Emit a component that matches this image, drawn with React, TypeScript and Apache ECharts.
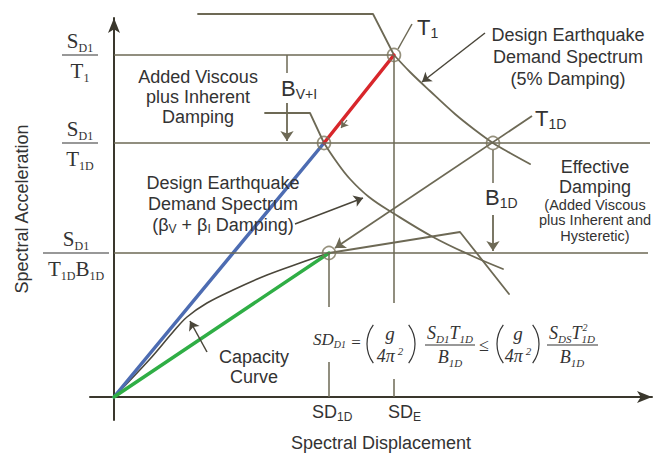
import { useEffect, useRef } from 'react';
import * as echarts from 'echarts';

type Pt = [number, number];

// ---------- values (x: spectral displacement, y: spectral acceleration; schematic units) ----------
const SD_1D = 2.15;
const SD_E = 2.8;
const SD_T1D = 3.79;
const SD_VI = 2.1;
const SA_T1 = 3.42;
const SA_T1D = 2.54;
const SA_T1D_B1D = 1.44;
const SD_BVI = 1.73;

const X_RANGE: Pt = [-0.24, 5.38];
const Y_RANGE: Pt = [-0.23, 3.79];

const spectrum5Plateau: Pt[] = [[0.84, 3.83], [2.59, 3.83], [2.8, 3.42]];
const spectrum5Curve: Pt[] = [[2.8, 3.42], [2.96, 3.25], [3.16, 3.06], [3.41, 2.83], [3.61, 2.67], [3.79, 2.54], [3.96, 2.44], [4.16, 2.33]];
const spectrumVIPlateau: Pt[] = [[1.51, 2.84], [1.96, 2.84], [2.1, 2.54]];
const spectrumVICurve: Pt[] = [[2.1, 2.54], [2.22, 2.36], [2.36, 2.18], [2.55, 2.0], [2.79, 1.84], [3.19, 1.6], [3.56, 1.42], [3.89, 1.28]];
const spectrumEffective: Pt[] = [[2.15, 1.44], [3.46, 1.65], [3.95, 1.03]];
const capacityCurve: Pt[] = [[0, 0], [0.36, 0.38], [0.59, 0.65], [0.73, 0.8], [0.93, 0.94], [1.19, 1.07], [1.53, 1.22], [1.86, 1.34], [2.15, 1.44]];
const secantT1: Pt[] = [[0, 0], [SD_VI, SA_T1D]];
const shiftT1: Pt[] = [[SD_VI, SA_T1D], [SD_E, SA_T1]];
const secantT1D: Pt[] = [[0, 0], [SD_1D, SA_T1D_B1D]];
const keyPoints: Pt[] = [[SD_E, SA_T1], [SD_VI, SA_T1D], [SD_T1D, SA_T1D], [SD_1D, SA_T1D_B1D]];

const guideLines: [Pt, Pt][] = [
  [[0, SA_T1], [SD_E, SA_T1]],
  [[0, SA_T1D], [5.36, SA_T1D]],
  [[0, SA_T1D_B1D], [5.34, SA_T1D_B1D]],
  [[SD_E, SA_T1], [SD_E, 0.94]],
  [[SD_E, 0.18], [SD_E, 0]],
  [[SD_1D, SA_T1D_B1D], [SD_1D, 0.9]],
  [[SD_1D, 0.35], [SD_1D, 0]],
  [[SD_BVI, SA_T1], [SD_BVI, 3.24]],
  [[SD_T1D, 2.47], [SD_T1D, 2.14]],
  [[2.84, 3.48], [2.98, 3.73]],
];
const arrowLines: [Pt, Pt][] = [
  [[SD_BVI, 2.94], [SD_BVI, 2.56]],
  [[SD_T1D, 1.82], [SD_T1D, 1.46]],
  [[4.18, 2.81], [2.21, 1.49]],
];
const smallArrows: [Pt, Pt][] = [
  [[2.33, 2.77], [2.27, 2.69]],
];
const curvedArrows: { from: Pt; to: Pt; bend: number }[] = [
  { from: [3.71, 3.64], to: [3.08, 3.15], bend: -0.3 },
  { from: [1.81, 1.73], to: [2.49, 1.99], bend: -0.15 },
  { from: [0.93, 0.45], to: [0.76, 0.76], bend: 0.3 },
];

// ---------- texts ----------
const yTitle = 'Spectral Acceleration';
const xTitle = 'Spectral Displacement';
const yTickNum = '{m|S}{s|D1}';
const yTickDens = ['{m|T}{s|1}', '{m|T}{s|1D}', '{m|T}{s|1D}{m|B}{s|1D}'];
const yTickValues = [SA_T1, SA_T1D, SA_T1D_B1D];
const xTickTexts = ['{m|SD}{s|1D}', '{m|SD}{s|E}'];
const xTickValues = [SD_1D, SD_E];
const noteSpectrum5 = 'Design Earthquake\nDemand Spectrum\n(5% Damping)';
const noteAdded = 'Added Viscous\nplus Inherent\nDamping';
const noteSpectrumVI = '{m|Design Earthquake}\n{m|Demand Spectrum}\n{m|(β}{s|V}{m| + β}{s|I}{m| Damping)}';
const noteEffective = 'Effective\nDamping';
const noteEffectiveSmall = '(Added Viscous\nplus Inherent and\nHysteretic)';
const noteCapacity = 'Capacity\nCurve';

// ---------- styles ----------
const SANS = '"Liberation Sans", Arial, Helvetica, sans-serif';
const SERIF = '"Liberation Serif", "Times New Roman", serif';
const INK = '#333333';
const GREY = '#6d6955';
const AXIS = '#3a372d';

const rich = (family: string, m: number, s: number, italic = false) => ({
  m: { fontFamily: family, fontSize: m, fill: INK, lineHeight: Math.round(m * 1.2), fontStyle: italic ? 'italic' : 'normal' },
  s: { fontFamily: family, fontSize: s, fill: INK, verticalAlign: 'bottom', fontStyle: italic ? 'italic' : 'normal' },
  u: { fontFamily: family, fontSize: s, fill: INK, verticalAlign: 'top', fontStyle: italic ? 'italic' : 'normal' },
});

const text = (x: number, y: number, t: string, o: any = {}) => ({
  type: 'text',
  x,
  y,
  silent: true,
  rotation: o.rotation || 0,
  z: 100,
  style: {
    text: t,
    fill: INK,
    fontFamily: o.family || SANS,
    fontSize: o.size || 18,
    fontStyle: o.italic ? 'italic' : 'normal',
    lineHeight: o.lineHeight,
    align: o.align || 'center',
    textAlign: o.align || 'center',
    verticalAlign: o.valign || 'middle',
    textVerticalAlign: o.valign || 'middle',
    rich: o.rich,
  },
});

const seg = (x1: number, y1: number, x2: number, y2: number, w = 1) => ({
  type: 'line',
  silent: true,
  z: 100,
  shape: { x1, y1, x2, y2 },
  style: { stroke: INK, lineWidth: w },
});

const paren = (x: number, cy: number, left: boolean) => {
  const r = 32;
  const a = 0.64;
  return {
    type: 'arc',
    silent: true,
    z: 100,
    shape: left
      ? { cx: x + r, cy, r, startAngle: Math.PI - a, endAngle: Math.PI + a, clockwise: true }
      : { cx: x - r, cy, r, startAngle: -a, endAngle: a, clockwise: true },
    style: { stroke: INK, lineWidth: 1.2, fill: 'none' },
  };
};

export default function App() {
  const ref = useRef<HTMLDivElement>(null);

  useEffect(() => {
    const el = ref.current!;
    const chart = echarts.init(el, undefined, { renderer: 'svg' });

    const line = (data: Pt[], color: string, width: number, z: number, smooth: any = false) => ({
      type: 'line',
      data,
      smooth,
      symbol: 'none',
      showSymbol: false,
      clip: false,
      silent: true,
      z,
      lineStyle: { color, width, cap: 'round', join: 'round' },
      emphasis: { disabled: true },
    });

    const marks = (pairs: any[], color: string, width: number, z: number, symbolSize: number, arrow: boolean) => ({
      type: 'line',
      data: [],
      clip: false,
      silent: true,
      z,
      markLine: {
        silent: true,
        animation: false,
        symbol: ['none', arrow ? 'arrow' : 'none'],
        symbolSize,
        label: { show: false },
        emphasis: { disabled: true },
        lineStyle: { color, width, type: 'solid' },
        data: pairs,
      },
    });

    const axis = (range: Pt) => ({
      type: 'value',
      min: range[0],
      max: range[1],
      axisLine: { show: true, onZero: true, symbol: ['none', 'arrow'], symbolSize: [9, 15], lineStyle: { color: AXIS, width: 2 } },
      axisTick: { show: false },
      axisLabel: { show: false },
      splitLine: { show: false },
    });

    chart.setOption({
      animation: false,
      backgroundColor: '#ffffff',
      grid: { left: 90, right: 1, top: 18, bottom: 38, containLabel: false, outerBoundsMode: 'none' },
      xAxis: axis(X_RANGE),
      yAxis: axis(Y_RANGE),
      series: [
        marks(guideLines.map(([a, b]) => [{ coord: a }, { coord: b }]), GREY, 1.5, 1, 0, false),
        marks(arrowLines.map(([a, b]) => [{ coord: a }, { coord: b }]), GREY, 1.8, 2, 10, true),
        marks(smallArrows.map(([a, b]) => [{ coord: a }, { coord: b }]), GREY, 1.2, 6, 7, true),
        marks(
          curvedArrows.map((c) => [{ coord: c.from, lineStyle: { curveness: c.bend } }, { coord: c.to }]),
          '#4a463a', 1.5, 2, 9, true,
        ),
        line(spectrum5Plateau, GREY, 1.8, 3),
        line(spectrum5Curve, GREY, 1.8, 3, 0.35),
        line(spectrumVIPlateau, GREY, 1.8, 3),
        line(spectrumVICurve, GREY, 1.8, 3, 0.4),
        line(spectrumEffective, GREY, 1.8, 3),
        line(capacityCurve, '#4a463a', 1.6, 3, 0.35),
        line(secantT1, '#4d6cb2', 3.5, 4),
        line(shiftT1, '#d8262b', 3.5, 4),
        line(secantT1D, '#2fae45', 3.5, 4),
        {
          type: 'scatter',
          data: keyPoints,
          symbol: 'circle',
          symbolSize: 13,
          silent: true,
          z: 5,
          itemStyle: { color: 'rgba(255,255,255,0)', borderColor: '#7a745b', borderWidth: 1.6 },
        },
      ],
    });

    const px = (p: Pt) => chart.convertToPixel({ gridIndex: 0 }, p) as number[];
    const origin = px([0, 0]);
    const elements: any[] = [];

    // axis titles
    elements.push(text(22, 209, yTitle, { rotation: Math.PI / 2, size: 18 }));
    elements.push(text(381, 443, xTitle, { size: 18 }));

    // y tick fractions
    const fr = rich(SERIF, 21, 12);
    yTickValues.forEach((v, i) => {
      const y = px([0, v])[1];
      const wide = i === 2;
      const cx = origin[0] - (wide ? 38 : 34);
      const half = wide ? 33 : 18;
      elements.push(text(cx, y - 14, yTickNum, { rich: fr }));
      elements.push(seg(cx - half, y, cx + half, y, 1.2));
      elements.push(text(cx, y + 16, yTickDens[i], { rich: fr }));
    });

    // x tick labels
    const xr = rich(SANS, 18, 12);
    xTickValues.forEach((v, i) => {
      const p = px([v, 0]);
      elements.push(text(p[0] + (i === 0 ? -17 : -6), p[1] + 15, xTickTexts[i], { rich: xr, align: 'left' }));
    });

    // point labels
    const lr = rich(SANS, 22, 14);
    const t1 = px([SD_E, SA_T1]);
    elements.push(text(t1[0] + 23, t1[1] - 28, '{m|T}{s|1}', { rich: lr, align: 'left' }));
    const t1d = px([SD_T1D, SA_T1D]);
    elements.push(text(t1d[0] + 42, t1d[1] - 25, '{m|T}{s|1D}', { rich: lr, align: 'left' }));
    const bvi = px([SD_BVI, SA_T1]);
    elements.push(text(bvi[0] - 6, bvi[1] + 33, '{m|B}{s|V+I}', { rich: lr, align: 'left' }));
    elements.push(text(t1d[0] - 8, t1d[1] + 54, '{m|B}{s|1D}', { rich: lr, align: 'left' }));

    // notes
    elements.push(text(568, 24, noteSpectrum5, { lineHeight: 22, valign: 'top' }));
    elements.push(text(198, 67, noteAdded, { lineHeight: 20, valign: 'top' }));
    elements.push(text(223, 172, noteSpectrumVI, { valign: 'top', rich: { ...rich(SANS, 18, 12), m: { fontFamily: SANS, fontSize: 18, fill: INK, lineHeight: 21 } } }));
    elements.push(text(595, 157, noteEffective, { lineHeight: 20, valign: 'top' }));
    elements.push(text(595, 197, noteEffectiveSmall, { lineHeight: 15.5, size: 14.5, valign: 'top' }));
    elements.push(text(254, 347, noteCapacity, { lineHeight: 20, valign: 'top' }));

    // formula
    const fi = rich(SERIF, 18, 11, true);
    const fs = rich(SERIF, 17, 10, true);
    elements.push(text(313, 339, '{m|SD}{s|D1}', { rich: fs, align: 'left' }));
    elements.push(text(356, 342, '=', { family: SERIF, size: 17 }));
    elements.push(paren(367, 344, true));
    elements.push(paren(415, 344, false));
    elements.push(text(390, 333, 'g', { family: SERIF, size: 19, italic: true }));
    elements.push(text(390, 356, '{m|4π}{u| 2}', { rich: fi }));
    elements.push(text(450, 333, '{m|S}{s|D1}{m|T}{s|1D}', { rich: fi }));
    elements.push(seg(425, 345, 475, 345, 1));
    elements.push(text(450, 357, '{m|B}{s|1D}', { rich: fi }));
    elements.push(text(484, 345, '≤', { family: SERIF, size: 18 }));
    elements.push(paren(497, 344, true));
    elements.push(paren(539, 344, false));
    elements.push(text(518, 333, 'g', { family: SERIF, size: 19, italic: true }));
    elements.push(text(518, 356, '{m|4π}{u| 2}', { rich: fi }));
    elements.push(text(572, 333, '{m|S}{s|DS}{m|T}{s|1D}', { rich: fi }));
    elements.push(text(585, 327, '2', { family: SERIF, size: 10, italic: true }));
    elements.push(seg(547, 345, 598, 345, 1));
    elements.push(text(572, 357, '{m|B}{s|1D}', { rich: fi }));

    chart.setOption({ graphic: { elements } });

    return () => chart.dispose();
  }, []);

  return (
    <div
      ref={ref}
      style={{ position: 'fixed', left: 0, top: 0, width: 653, height: 458, background: '#ffffff' }}
    />
  );
}
